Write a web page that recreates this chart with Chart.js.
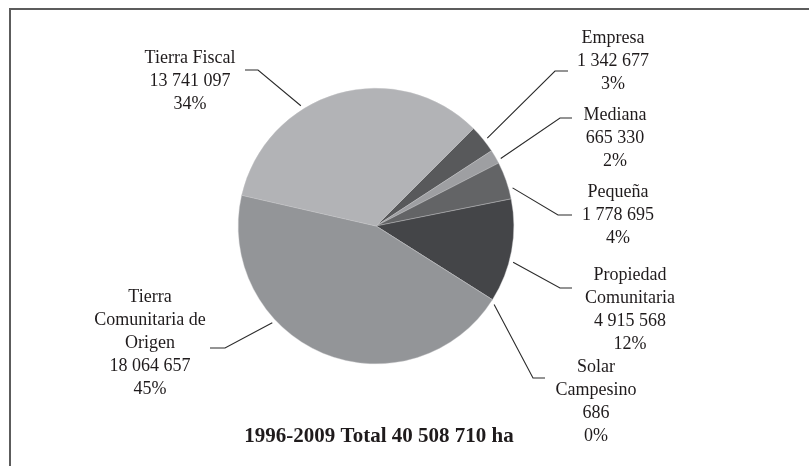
<!DOCTYPE html>
<html>
<head>
<meta charset="utf-8">
<script src="https://cdn.jsdelivr.net/npm/chart.js@4/dist/chart.umd.min.js"></script>
<style>
    html, body { margin: 0; padding: 0; background: #ffffff; }
    #wrap { position: relative; width: 809px; height: 466px; overflow: hidden; }
    #frame {
        position: absolute; left: 9px; top: 8px; width: 820px; height: 480px;
        border-top: 2px solid #5c5c5c; border-left: 2px solid #5c5c5c;
    }
    canvas { position: absolute; left: 0; top: 0; }
</style>
</head>
<body>
<div id="wrap">
    <div id="frame"></div>
    <canvas id="pieChart" width="809" height="466"></canvas>
</div>
<script>
// Data (hectares, 1996-2009)
const categories = ['Empresa', 'Mediana', 'Pequeña', 'Propiedad Comunitaria', 'Solar Campesino', 'Tierra Comunitaria de Origen', 'Tierra Fiscal'];
const nameLines = [['Empresa'], ['Mediana'], ['Pequeña'], ['Propiedad', 'Comunitaria'], ['Solar', 'Campesino'], ['Tierra', 'Comunitaria de', 'Origen'], ['Tierra Fiscal']];
const hectares = [1342677, 665330, 1778695, 4915568, 686, 18064657, 13741097];
const percentLabels = ['3%', '2%', '4%', '12%', '0%', '45%', '34%'];
const sliceColors = ['#58595b', '#9e9fa2', '#636466', '#444548', '#6d6e70', '#939598', '#b2b3b6'];
const titleText = '1996-2009 Total 40 508 710 ha';

// Label layout, relative to the pie centre (angle in degrees clockwise from top)
const labelLayout = [
    { angle: 51.7, elbow: [179, -155], end: 192, text: [237, -188] },
    { angle: 61.6, elbow: [184, -108], end: 196, text: [239, -111] },
    { angle: 74.4, elbow: [182, -11], end: 196, text: [242, -34] },
    { angle: 104.8, elbow: [184, 62], end: 196, text: [254, 49] },
    { angle: 123.6, elbow: [157, 152], end: 169, text: [220, 141] },
    { angle: 227, elbow: [-151, 122], end: -166, text: [-226, 71] },
    { angle: 328, elbow: [-118, -156], end: -131, text: [-186, -168] }
];

const FONT = '"Liberation Serif", "DejaVu Serif", serif';
const LINE_H = 23;

function fmt(n) {
    return String(n).replace(/\B(?=(\d{3})+(?!\d))/g, ' ');
}

// Draws leader lines, labels and the total line
const labelPlugin = {
    id: 'pieLabels',
    afterDraw(chart) {
        const ctx = chart.ctx;
        const arcs = chart.getDatasetMeta(0).data;
        const cx = arcs[0].x;
        const cy = arcs[0].y;
        const r = arcs[0].outerRadius;

        ctx.save();
        ctx.strokeStyle = '#2b2b2b';
        ctx.lineWidth = 1.1;
        ctx.fillStyle = '#1f1b1c';
        ctx.textAlign = 'center';
        ctx.textBaseline = 'middle';
        ctx.font = '18px ' + FONT;

        labelLayout.forEach((lay, i) => {
            const a = (lay.angle - 90) * Math.PI / 180;
            const sx = cx + Math.cos(a) * (r + 4);
            const sy = cy + Math.sin(a) * (r + 4);
            ctx.beginPath();
            ctx.moveTo(sx, sy);
            ctx.lineTo(cx + lay.elbow[0], cy + lay.elbow[1]);
            ctx.lineTo(cx + lay.end, cy + lay.elbow[1]);
            ctx.stroke();

            const lines = nameLines[i].concat([fmt(hectares[i]), percentLabels[i]]);
            lines.forEach((t, k) => {
                ctx.fillText(t, cx + lay.text[0], cy + lay.text[1] + k * LINE_H);
            });
        });

        ctx.font = 'bold 21px ' + FONT;
        ctx.fillText(titleText, cx + 3, cy + 211);
        ctx.restore();
    }
};

new Chart(document.getElementById('pieChart').getContext('2d'), {
    type: 'pie',
    data: {
        labels: categories,
        datasets: [{
            data: hectares,
            backgroundColor: sliceColors,
            borderColor: '#c4c5c7',
            borderWidth: 0.4
        }]
    },
    options: {
        responsive: false,
        animation: false,
        events: [],
        rotation: 45,
        layout: {
            padding: { top: 88, bottom: 102, left: 238, right: 295 }
        },
        plugins: {
            legend: { display: false },
            tooltip: { enabled: false }
        }
    },
    plugins: [labelPlugin]
});
</script>
</body>
</html>
